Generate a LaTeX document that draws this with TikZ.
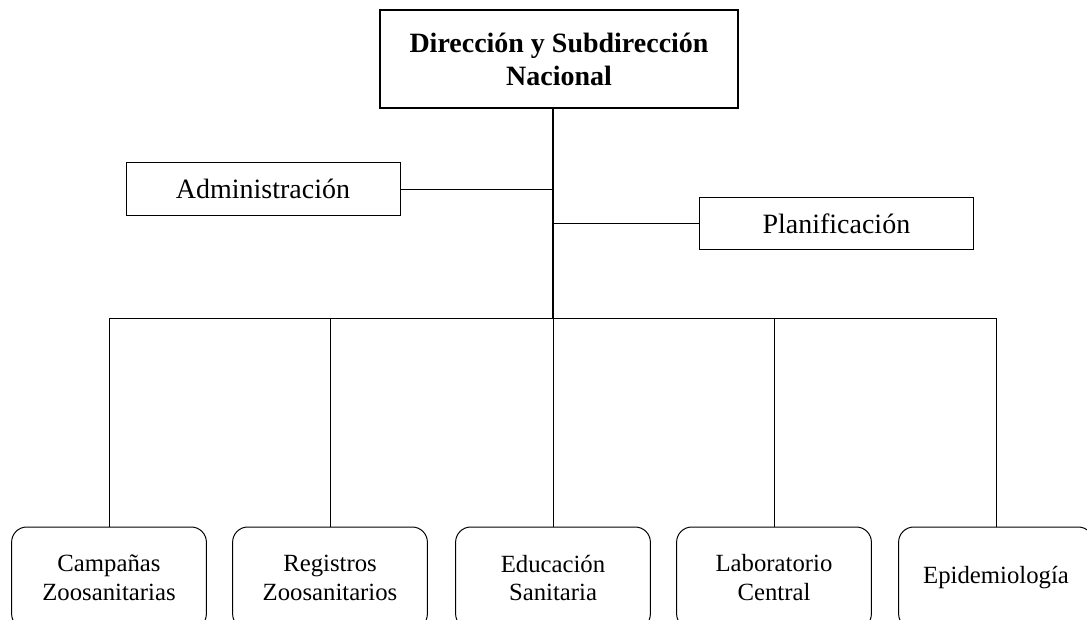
\documentclass[tikz,border=0pt]{standalone}
\usepackage{fontspec}
\setmainfont{Liberation Serif}
\begin{document}
\begin{tikzpicture}[
    cajadir/.style={draw, line width=1.4pt, minimum width=8.95cm, minimum height=2.45cm,
      align=center, font=\fontsize{19.9}{23.5}\selectfont\bfseries},
    cajastaff/.style={draw, line width=0.7pt, minimum width=6.85cm, minimum height=1.31cm,
      font=\fontsize{19.9}{23.5}\selectfont},
    cajadep/.style={draw, line width=0.7pt, rounded corners=0.38cm, minimum width=4.87cm,
      minimum height=2.55cm, align=center, font=\fontsize{17.6}{20.6}\selectfont},
    linea/.style={line width=0.7pt},
    tronco/.style={line width=1.4pt}
  ]
  % Marco de la figura
  \clip (0,0) rectangle (27.175,-15.475);

  % Direccion
  \node[cajadir] (dir) at (13.975,-1.475) {Dirección y Subdirección\\Nacional};

  % Eje vertical y barra horizontal
  \coordinate (bus) at (13.825,-7.95);
  \draw[tronco] (dir.south -| bus) -- (bus);

  % Unidades de apoyo
  \node[cajastaff] (adm) at (6.575,-4.725) {Administración};
  \node[cajastaff] (plan) at (20.91,-5.59) {Planificación};
  \draw[linea] (adm.east) -- (adm.east -| bus);
  \draw[linea] (plan.west) -- (plan.west -| bus);

  % Departamentos
  \node[cajadep] (camp) at (2.725,-14.45) {Campañas\\Zoosanitarias};
  \node[cajadep] (reg) at (8.25,-14.45) {Registros\\Zoosanitarios};
  \node[cajadep] (edu) at (13.825,-14.45) {Educación\\Sanitaria};
  \node[cajadep] (lab) at (19.35,-14.45) {Laboratorio\\Central};
  \node[cajadep] (epi) at (24.9,-14.45) {Epidemiología};

  \draw[linea] (camp.north |- bus) -- (epi.north |- bus);
  \draw[linea] (camp.north) -- (camp.north |- bus);
  \draw[linea] (reg.north) -- (reg.north |- bus);
  \draw[linea] (edu.north) -- (edu.north |- bus);
  \draw[linea] (lab.north) -- (lab.north |- bus);
  \draw[linea] (epi.north) -- (epi.north |- bus);
\end{tikzpicture}
\end{document}
